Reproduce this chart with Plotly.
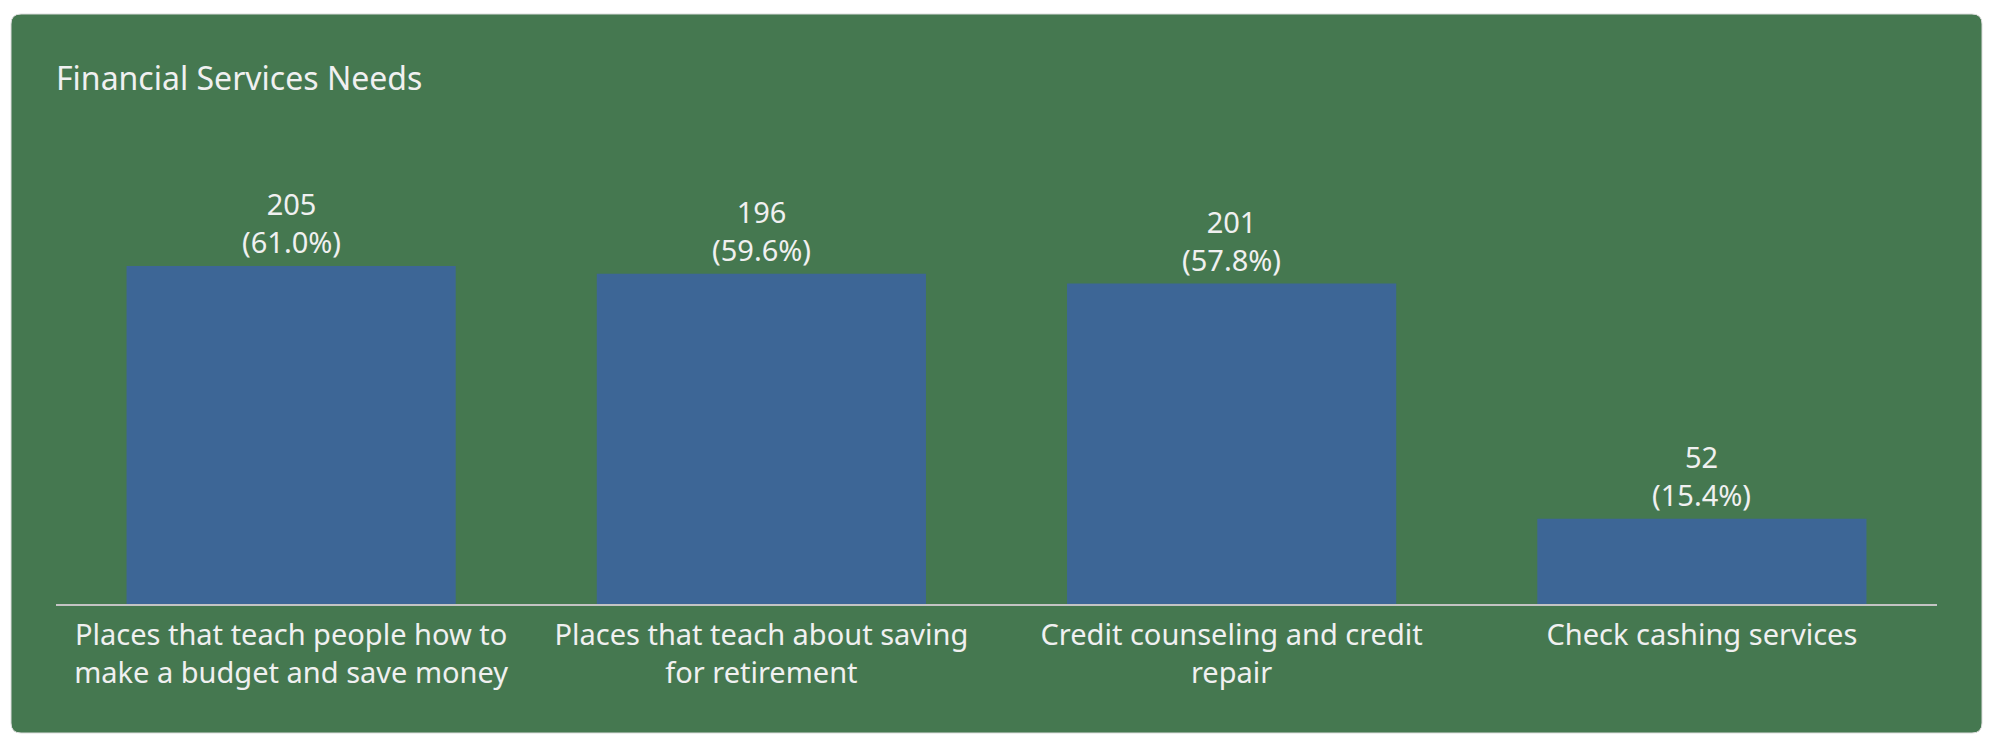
import plotly.graph_objects as go

categories = [
    "Places that teach people how to<br>make a budget and save money",
    "Places that teach about saving<br>for retirement",
    "Credit counseling and credit<br>repair",
    "Check cashing services",
]
counts = [205, 196, 201, 52]
percents = [61.0, 59.6, 57.8, 15.4]
title_text = "Financial Services Needs"

W, H = 1989, 742
ML, MR, MT, MB = 56, 52, 216, 138
PW, PH = W - ML - MR, H - MT - MB
YMAX = 70

GREEN = "#457850"
BLUE = "#3d6696"
FONT = "Noto Sans, Open Sans, sans-serif"
TXT = "#f0f0f0"

fig = go.Figure()
fig.add_trace(go.Bar(
    x=categories, y=percents,
    marker=dict(color=BLUE, line=dict(width=0)),
    hoverinfo="skip",
    cliponaxis=False,
))

# two-line label above each bar: count and percent
for c, n, p in zip(categories, counts, percents):
    fig.add_annotation(x=c, y=p, text=f"{n}<br>({p:.1f}%)", showarrow=False,
                       yanchor="bottom", yshift=3, align="center",
                       font=dict(family=FONT, size=29, color=TXT))

# rounded card background (pixel -> paper conversion)
def px2x(px):
    return (px - ML) / PW

def py2y(py):
    return (MT + PH - py) / PH

x0, x1, y0, y1, r = 11, 1982, 14, 733, 10
path = (
    f"M {px2x(x0 + r)} {py2y(y0)} "
    f"L {px2x(x1 - r)} {py2y(y0)} "
    f"Q {px2x(x1)} {py2y(y0)} {px2x(x1)} {py2y(y0 + r)} "
    f"L {px2x(x1)} {py2y(y1 - r)} "
    f"Q {px2x(x1)} {py2y(y1)} {px2x(x1 - r)} {py2y(y1)} "
    f"L {px2x(x0 + r)} {py2y(y1)} "
    f"Q {px2x(x0)} {py2y(y1)} {px2x(x0)} {py2y(y1 - r)} "
    f"L {px2x(x0)} {py2y(y0 + r)} "
    f"Q {px2x(x0)} {py2y(y0)} {px2x(x0 + r)} {py2y(y0)} Z"
)
fig.add_shape(type="path", path=path, xref="paper", yref="paper",
              fillcolor=GREEN, line=dict(width=1, color="#dcdcdc"), layer="below")

fig.update_layout(
    width=W, height=H,
    margin=dict(l=ML, r=MR, t=MT, b=MB, pad=0),
    paper_bgcolor="white",
    plot_bgcolor="rgba(0,0,0,0)",
    bargap=0.3,
    showlegend=False,
    title=dict(text=title_text, x=56 / W, xanchor="left", xref="container",
               y=1 - 79 / H, yanchor="middle", yref="container",
               font=dict(family=FONT, size=32, color=TXT)),
    xaxis=dict(showgrid=False, zeroline=False, showline=True,
               linecolor="#c4c4c4", linewidth=2,
               ticks="outside", ticklen=4, tickcolor="rgba(0,0,0,0)",
               tickfont=dict(family=FONT, size=29, color=TXT),
               fixedrange=True),
    yaxis=dict(range=[0, YMAX], visible=False, showgrid=False,
               zeroline=False, fixedrange=True),
)

fig.write_html("out.html")
